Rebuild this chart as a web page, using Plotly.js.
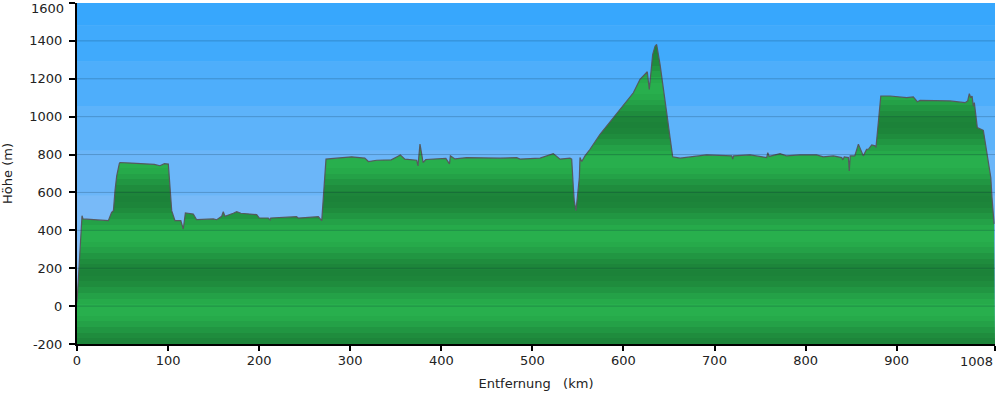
<!DOCTYPE html>
<html>
<head>
<meta charset="utf-8">
<script src="https://cdn.plot.ly/plotly-3.0.1.min.js"></script>
<style>html,body{margin:0;padding:0;background:#fff;}#chart{width:1000px;height:394px;}</style>
</head>
<body>
<div id="chart"></div>
<script>
// Distance (km) along the route
const distanceKm = [0,2.2,5.0,5.5,6.6,12,20,34.4,38,40,41.7,43.6,46.5,47.2,60,76.5,85,91,96,100.3,102.1,104,107.6,114,116.7,119,122,127.7,131.4,149.7,153.4,158.9,160.6,162.5,171.6,175.4,180,197.3,200.2,210,212,212.7,241,243,265,268.7,270.5,273.4,285,301.6,316,320,329,345,352,355,360,373,374.4,376.6,378.5,380,383,387.6,405,409,410,415,428,464.5,482.8,486.4,508.4,523,526.7,530.4,541.3,543.2,545,546,547.9,549.4,550.5,551.6,552.3,554.2,557.8,563.3,574.3,581.6,590.7,596.2,603.6,610.9,618.2,623.7,626.2,628.4,630.3,632.1,634.7,636.5,640.2,643.8,647.5,651.2,654.1,662.2,673.1,691.4,719,720,721,739,757.3,758.5,760,772,779,793.9,812,819.5,830.5,839.7,841,842.5,847,848,849,854,858,863.4,867,869,872.6,876.3,877.3,880,882.6,892.8,911,918.3,922.7,925.7,947.6,958.6,975,978,979.8,981.4,982.8,984.2,985.3,988.6,995.2,998.2,1001.8,1003.4,1004.7,1007];
// Elevation (m)
const elevationM = [20,200,470,477,460,458,455,451,495,504,609,688,753,758,755,750,748,741,752,750,626,504,451,451,407,492,490,486,456,460,456,474,498,474,490,498,490,483,465,465,455,465,472,465,472,451,574,776,781,788,781,763,770,772,790,798,776,770,740,855,802,758,774,776,780,751,793,777,784,781,784,776,781,805,788,776,781,776,626,556,504,574,626,679,784,763,793,828,907,951,1004,1039,1083,1126,1197,1226,1237,1144,1241,1328,1372,1381,1276,1162,1021,889,788,781,788,798,793,776,793,798,784,810,790,805,793,798,798,788,793,784,772,788,784,714,793,793,855,793,828,828,851,846,837,977,1109,1109,1100,1104,1079,1086,1086,1083,1074,1083,1121,1100,1109,1056,1074,942,928,837,741,679,574,434];

const xTickVals = [0,100,200,300,400,500,600,700,800,900,1008];
const xTickText = ['0','100','200','300','400','500','600','700','800','900','1008'];
const yTickVals = [-200,0,200,400,600,800,1000,1200,1400,1600];
const yTickText = ['-200','0','200','400','600','800','1000','1200','1400','1600'];

const X_MIN = 0, X_MAX = 1008, Y_MIN = -200, Y_MAX = 1600;

// Green banded fill colorscale
function hex(c){return [parseInt(c.slice(1,3),16),parseInt(c.slice(3,5),16),parseInt(c.slice(5,7),16)];}
const light = hex('#28b04d'), dark = hex('#1c8239');
const colorscale = [];
const step = 30;
for (let e = Y_MIN; e < Y_MAX; e += step) {
  const mid = e + step/2;
  const w = 0.5 + 0.5*Math.cos(2*Math.PI*(mid-370)/390);
  const c = light.map((v,i)=>Math.round(dark[i] + (v-dark[i])*w));
  const col = 'rgb(' + c.join(',') + ')';
  const f0 = (e - Y_MIN)/(Y_MAX-Y_MIN), f1 = Math.min(1,(e+step - Y_MIN)/(Y_MAX-Y_MIN));
  colorscale.push([f0, col]); colorscale.push([f1, col]);
}

// Blue sky bands
const bandEdges = [1600,1480,1290,1056,820,582,346,-200];
const bandColors = ['#37a7fd','#40aafc','#4eaefb','#5db3fa','#6bb6f9','#78baf8','#85bef7'];
const shapes = [];
for (let i=0;i<bandColors.length;i++){
  shapes.push({type:'rect',xref:'paper',yref:'y',x0:0,x1:1,y0:bandEdges[i+1],y1:bandEdges[i],fillcolor:bandColors[i],line:{width:0},layer:'below'});
}
for (let v=0; v<=1400; v+=200){
  shapes.push({type:'line',xref:'paper',yref:'y',x0:0,x1:1,y0:v,y1:v,line:{color:'rgba(0,30,50,0.22)',width:1},layer:'above'});
}

// Edge tick labels are drawn shifted inward (as in the reference) via annotations
const lastX = xTickText.length - 1, lastY = yTickText.length - 1;
const xTickTextShown = xTickText.map((t,i)=> i===lastX ? '' : t);
const yTickTextShown = yTickText.map((t,i)=> i===lastY ? '' : t);

const baseline = {x:[X_MIN, X_MAX], y:[Y_MIN, Y_MIN], mode:'lines', line:{width:0}, hoverinfo:'skip', showlegend:false};
const profile = {
  x: distanceKm, y: elevationM, mode:'lines', fill:'tonexty',
  fillgradient:{type:'vertical', start:Y_MIN, stop:Y_MAX, colorscale: colorscale},
  line:{color:'rgba(85,85,90,0.95)', width:1.2}, showlegend:false, hoverinfo:'skip'
};

const font = {family:'DejaVu Sans, Verdana, sans-serif', size:13, color:'#222'};
const layout = {
  width:1000, height:394,
  margin:{l:77, r:5, t:3, b:50},
  paper_bgcolor:'#ffffff', plot_bgcolor:'#85bef7',
  font: font,
  showlegend:false,
  xaxis:{range:[X_MIN,X_MAX], tickvals:xTickVals, ticktext:xTickTextShown, ticks:'outside', ticklen:5, tickwidth:2, tickcolor:'#000',
    ticklabeloverflow:'allow', ticklabelstandoff:-2,
    showline:true, linecolor:'#000', linewidth:2, showgrid:false, zeroline:false, fixedrange:true,
    title:{text:'Entfernung\u00a0\u00a0\u00a0(km)', font:font, standoff:12}},
  yaxis:{range:[Y_MIN,Y_MAX], tickvals:yTickVals, ticktext:yTickTextShown, ticks:'outside', ticklen:6, tickwidth:2, tickcolor:'#000',
    ticklabeloverflow:'allow', ticklabelstandoff:4,
    showline:true, linecolor:'#000', linewidth:2, showgrid:false, zeroline:false, fixedrange:true,
    title:{text:'Höhe (m)', font:font, standoff:16}},
  shapes: shapes,
  annotations:[
    {xref:'paper', yref:'y', x:0, y:yTickVals[lastY], text:yTickText[lastY], showarrow:false, xanchor:'right', yanchor:'top', xshift:-12, yshift:3, font:font, borderpad:0},
    {xref:'x', yref:'paper', x:xTickVals[lastX], y:0, text:xTickText[lastX], showarrow:false, xanchor:'right', yanchor:'top', xshift:-1, yshift:-9, font:font, borderpad:0}
  ]
};
Plotly.newPlot('chart', [baseline, profile], layout, {staticPlot:true, displayModeBar:false});
</script>
</body>
</html>
